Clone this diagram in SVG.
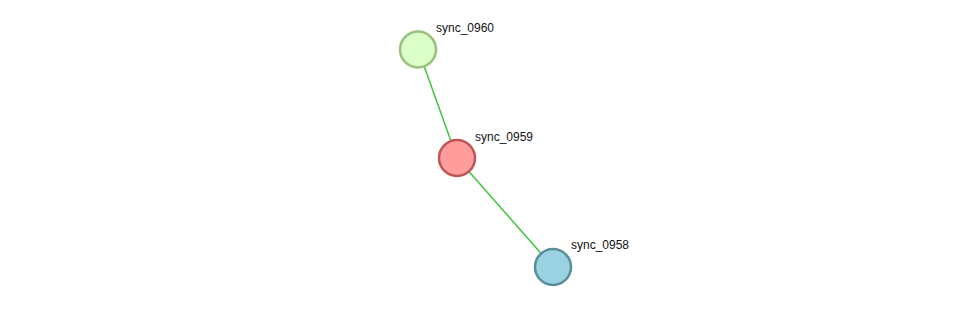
<svg xmlns="http://www.w3.org/2000/svg" width="975" height="312" viewBox="0 0 975 312">
<style>
.edge{stroke:#3fc43f;stroke-width:1.5;fill:none}
.node{stroke-width:2.5}
.lbl{font-family:"Liberation Sans",Arial,sans-serif;font-size:12px;fill:#111}
</style>
<rect width="975" height="312" fill="#fff"/>
<g id="connectors">
<line class="edge" x1="418" y1="49" x2="457" y2="158"/>
<line class="edge" x1="457" y1="158" x2="553" y2="267"/>
</g>
<g id="sync_0960">
<circle class="node" cx="418" cy="49.5" r="18" fill="#dbffc6" stroke="#9bbf7d"/>
<text class="lbl" x="436" y="32">sync_0960</text>
</g>
<g id="sync_0959">
<circle class="node" cx="457" cy="158" r="18" fill="#ff9c9c" stroke="#c05555"/>
<text class="lbl" x="475" y="141">sync_0959</text>
</g>
<g id="sync_0958">
<circle class="node" cx="553" cy="267" r="18" fill="#9ad2e2" stroke="#5b8e9c"/>
<text class="lbl" x="571" y="249">sync_0958</text>
</g>
</svg>
